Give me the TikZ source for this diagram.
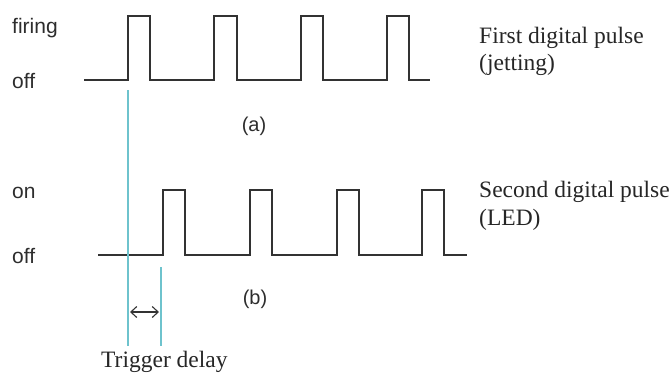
\documentclass[tikz,border=0pt]{standalone}
\usepackage{fontspec}
\setmainfont{Liberation Serif}
\newfontfamily\labelsans{Liberation Sans}
\usetikzlibrary{arrows.meta}
\definecolor{wave}{RGB}{50,50,50}
\definecolor{marker}{RGB}{110,195,205}
\definecolor{sanstext}{RGB}{45,45,45}
\tikzset{
  signal/.style={draw=wave, line width=1.8pt, line join=miter},
  guide/.style={draw=marker, line width=1.5pt},
  span/.style={draw=black!80, line width=1.1pt, {Straight Barb[length=6pt,width=11pt]}-{Straight Barb[length=6pt,width=11pt]}},
  level/.style={font=\labelsans\fontsize{21}{24}\selectfont, text=sanstext, anchor=base west, inner sep=0pt},
  tag/.style={font=\labelsans\fontsize{20}{24}\selectfont, text=sanstext, inner sep=0pt},
  caption/.style={font=\fontsize{23.5}{26}\selectfont, text=black!85, anchor=base west, inner sep=0pt}
}
\begin{document}
\begin{tikzpicture}[x=1pt, y=-1pt]
  \useasboundingbox (0,0) rectangle (671,373);

  % (a) first digital pulse train: jetting
  \draw[signal] (84,80) -- (128,80) -- (128,16) -- (150,16) -- (150,80)
    -- (214,80) -- (214,16) -- (237,16) -- (237,80)
    -- (301,80) -- (301,16) -- (323,16) -- (323,80)
    -- (387,80) -- (387,16) -- (409,16) -- (409,80) -- (430,80);

  % (b) second digital pulse train: LED
  \draw[signal] (98,255) -- (163,255) -- (163,190) -- (185,190) -- (185,255)
    -- (250,255) -- (250,190) -- (272,190) -- (272,255)
    -- (337,255) -- (337,190) -- (359,190) -- (359,255)
    -- (422,255) -- (422,190) -- (444,190) -- (444,255) -- (467,255);

  % trigger delay markers
  \coordinate (fireTop) at (128,90);
  \coordinate (fireBot) at (128,346);
  \coordinate (ledTop)  at (161,267);
  \coordinate (ledBot)  at (161,346);
  \coordinate (delayL)  at (130,312);
  \coordinate (delayR)  at (159,312);
  \draw[guide] (fireTop) -- (fireBot);
  \draw[guide] (ledTop) -- (ledBot);
  \draw[span] (delayL) -- (delayR);

  % level labels
  \node[level] (firing) at (12,33)  {firing};
  \node[level] (offA)   at (12,88)  {off};
  \node[level] (on)     at (12,198) {on};
  \node[level] (offB)   at (12,263) {off};

  % panel tags
  \node[tag] (tagA) at (254,126) {(a)};
  \node[tag] (tagB) at (255,299) {(b)};

  % descriptions
  \node[caption] (first)  at (479,43)  {First digital pulse};
  \node[caption] (jet)    at (479,70)  {(jetting)};
  \node[caption] (second) at (479,197) {Second digital pulse};
  \node[caption] (led)    at (479,225) {(LED)};
  \node[caption] (delay)  at (101,367) {Trigger delay};
\end{tikzpicture}
\end{document}
